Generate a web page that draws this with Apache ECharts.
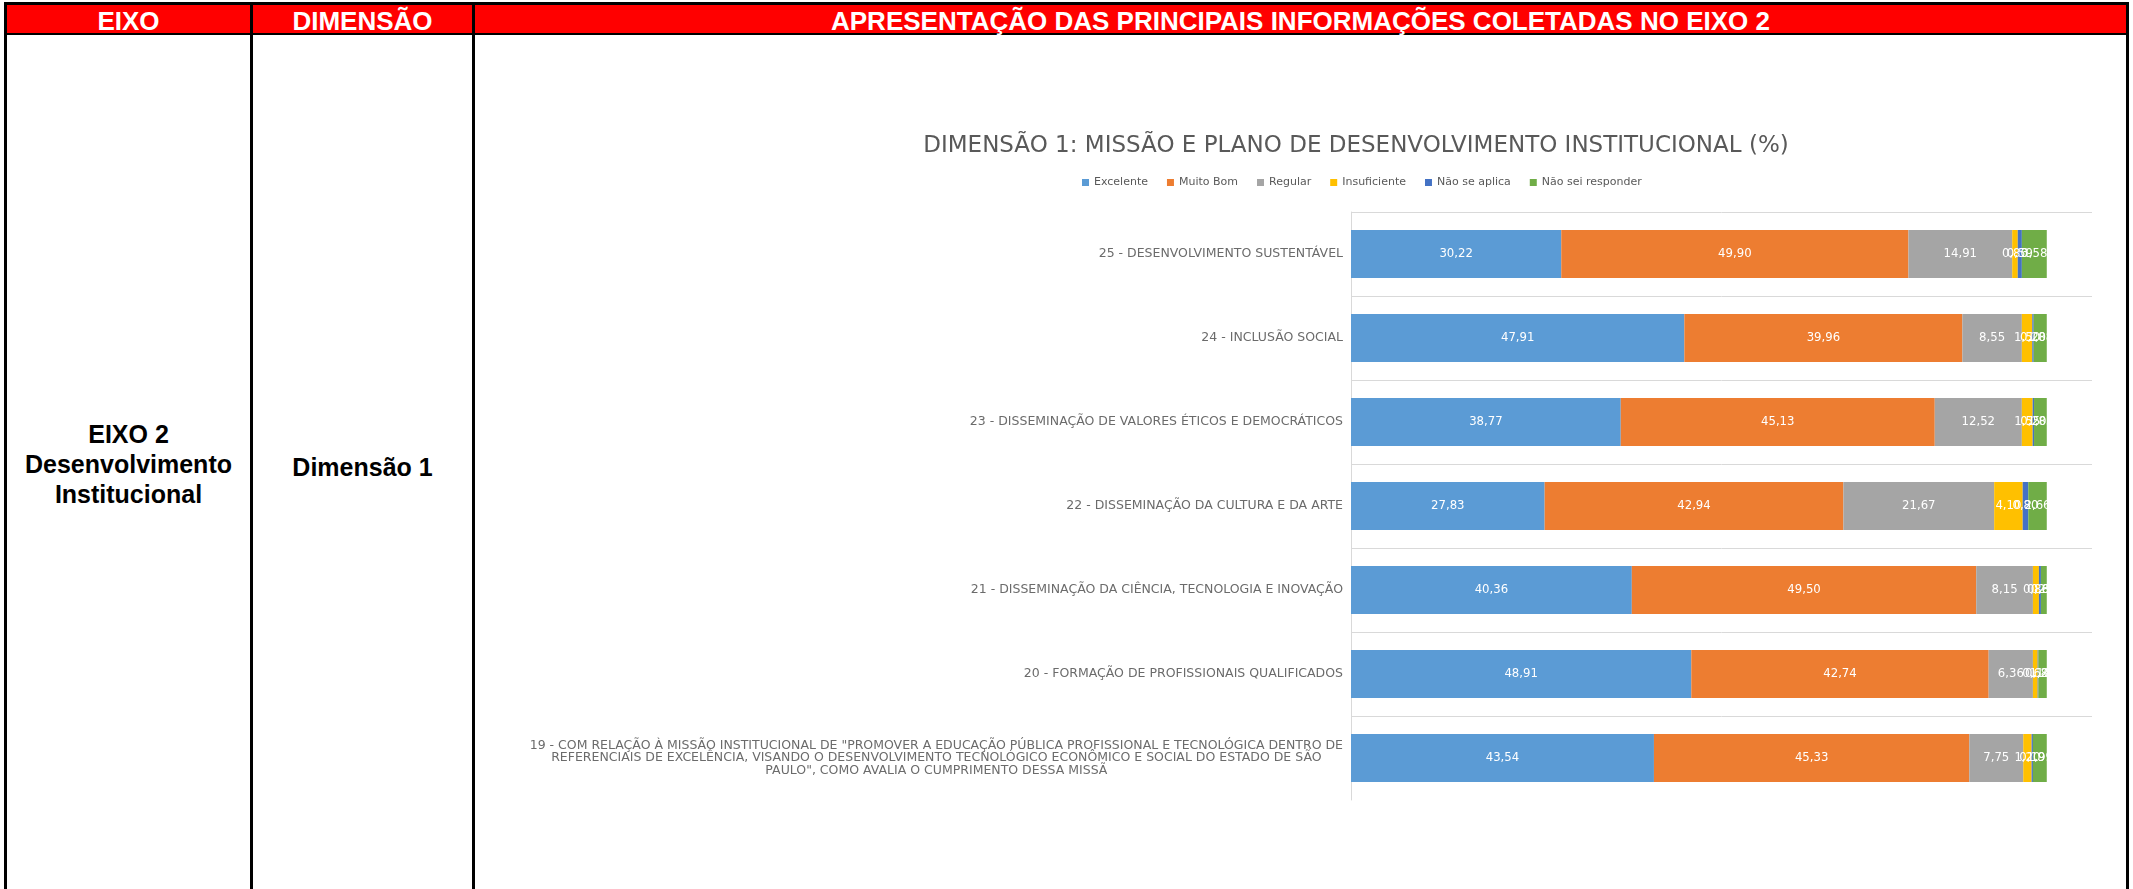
<!DOCTYPE html>
<html>
<head>
    <meta charset="utf-8">
    <title>Eixo 2 - Dimensão 1</title>
    <script src="https://cdn.jsdelivr.net/npm/echarts@6/dist/echarts.min.js"></script>
    <style>
        body { margin: 0; width: 2133px; height: 889px; overflow: hidden; background: #fff; font-family: "Liberation Sans", Arial, sans-serif; }
        .frame { position: absolute; left: 4px; top: 2px; width: 2125px; height: 920px; box-sizing: border-box; border: 3px solid #000; border-bottom: none; }
        .head { position: absolute; left: 0; top: 0; width: 100%; height: 28px; background: #ff0000; border-bottom: 2px solid #000; }
        .head div { position: absolute; top: 2px; height: 28px; line-height: 28px; color: #fff; font-weight: bold; font-size: 26px; text-align: center; }
        .vline { position: absolute; top: 0; width: 3px; height: 920px; background: #000; }
        .cell { position: absolute; color: #000; font-weight: bold; font-size: 25px; line-height: 30px; text-align: center; }
        #chart { position: absolute; left: 0; top: 0; width: 2133px; height: 889px; }
    </style>
</head>
<body>
<div class="frame">
    <div class="head">
        <div style="left:0;width:243px">EIXO</div>
        <div style="left:246px;width:219px">DIMENSÃO</div>
        <div style="left:468px;width:1651px">APRESENTAÇÃO DAS PRINCIPAIS INFORMAÇÕES COLETADAS NO EIXO 2</div>
    </div>
    <div class="vline" style="left:243px"></div>
    <div class="vline" style="left:465px"></div>
    <div class="cell" style="left:0;width:243px;top:414px">EIXO 2<br>Desenvolvimento<br>Institucional</div>
    <div class="cell" style="left:246px;width:219px;top:447px">Dimensão 1</div>
</div>
<div id="chart"></div>
<script>
    // categorias de baixo para cima (19 embaixo, 25 no topo)
    var categorias = [
        '19 - COM RELAÇÃO À MISSÃO INSTITUCIONAL DE "PROMOVER A EDUCAÇÃO PÚBLICA PROFISSIONAL E TECNOLÓGICA DENTRO DE\nREFERENCIAIS DE EXCELÊNCIA, VISANDO O DESENVOLVIMENTO TECNOLÓGICO ECONÔMICO E SOCIAL DO ESTADO DE SÃO\nPAULO", COMO AVALIA O CUMPRIMENTO DESSA MISSÃ',
        '20 - FORMAÇÃO DE PROFISSIONAIS QUALIFICADOS',
        '21 - DISSEMINAÇÃO DA CIÊNCIA, TECNOLOGIA E INOVAÇÃO',
        '22 - DISSEMINAÇÃO DA CULTURA E DA ARTE',
        '23 - DISSEMINAÇÃO DE VALORES ÉTICOS E DEMOCRÁTICOS',
        '24 - INCLUSÃO SOCIAL',
        '25 - DESENVOLVIMENTO SUSTENTÁVEL'
    ];
    var excelente    = [43.54, 48.91, 40.36, 27.83, 38.77, 47.91, 30.22];
    var muitoBom     = [45.33, 42.74, 49.50, 42.94, 45.13, 39.96, 49.90];
    var regular      = [7.75, 6.36, 8.15, 21.67, 12.52, 8.55, 14.91];
    var insuficiente = [1.20, 0.68, 0.86, 4.10, 1.55, 1.50, 0.80];
    var naoSeAplica  = [0.19, 0.10, 0.29, 0.80, 0.20, 0.20, 0.59];
    var naoSei       = [1.99, 1.21, 0.84, 2.66, 1.83, 1.88, 3.58];

    var nomes = ['Excelente', 'Muito Bom', 'Regular', 'Insuficiente', 'Não se aplica', 'Não sei responder'];
    var cores = ['#5b9bd5', '#ed7d31', '#a5a5a5', '#ffc000', '#4472c4', '#70ad47'];
    var valores = [excelente, muitoBom, regular, insuficiente, naoSeAplica, naoSei];

    var fonteRotulo = '"Liberation Sans Narrow", "DejaVu Sans Condensed", "DejaVu Sans", sans-serif';

    var series = [];
    for (var i = 0; i < nomes.length; i++) {
        series.push({
            name: nomes[i],
            type: 'bar',
            stack: 'total',
            barWidth: 48,
            itemStyle: { color: cores[i] },
            label: {
                show: true,
                position: 'inside',
                color: '#fff',
                fontSize: 13,
                fontFamily: fonteRotulo,
                formatter: function (p) { return p.value.toFixed(2).replace('.', ','); }
            },
            data: valores[i]
        });
    }

    var myChart = echarts.init(document.getElementById('chart'));
    var option = {
        animation: false,
        color: cores,
        title: {
            text: 'DIMENSÃO 1: MISSÃO E PLANO DE DESENVOLVIMENTO INSTITUCIONAL (%)',
            left: 1351,
            textAlign: 'center',
            top: 128,
            textStyle: { color: '#595959', fontSize: 23, fontWeight: 'normal', fontFamily: 'DejaVu Sans', lineHeight: 26 }
        },
        legend: {
            left: 1077,
            top: 172,
            itemWidth: 7,
            itemHeight: 7,
            itemGap: 19,
            icon: 'rect',
            textStyle: { color: '#595959', fontSize: 11, fontFamily: 'DejaVu Sans' },
            data: nomes
        },
        grid: { left: 1351, right: 41, top: 212, bottom: 89 },
        xAxis: {
            type: 'value',
            min: 0,
            max: 106.5,
            show: false
        },
        yAxis: {
            type: 'category',
            data: categorias,
            axisLine: { show: true, lineStyle: { color: '#d9d9d9' } },
            axisTick: { show: false },
            splitLine: {
                show: true,
                interval: function (idx) { return idx !== 0; },
                lineStyle: { color: '#d9d9d9', width: 1 }
            },
            axisLabel: {
                margin: 8,
                color: '#6b6b6b',
                fontSize: 12.5,
                fontFamily: 'DejaVu Sans',
                formatter: function (v) {
                    return v.split('\n').map(function (s) { return '{a|' + s + '}'; }).join('\n');
                },
                rich: {
                    a: { align: 'center', color: '#6b6b6b', fontSize: 12.5, fontFamily: 'DejaVu Sans', lineHeight: 12.5 }
                }
            }
        },
        series: series
    };
    myChart.setOption(option);
</script>
</body>
</html>
